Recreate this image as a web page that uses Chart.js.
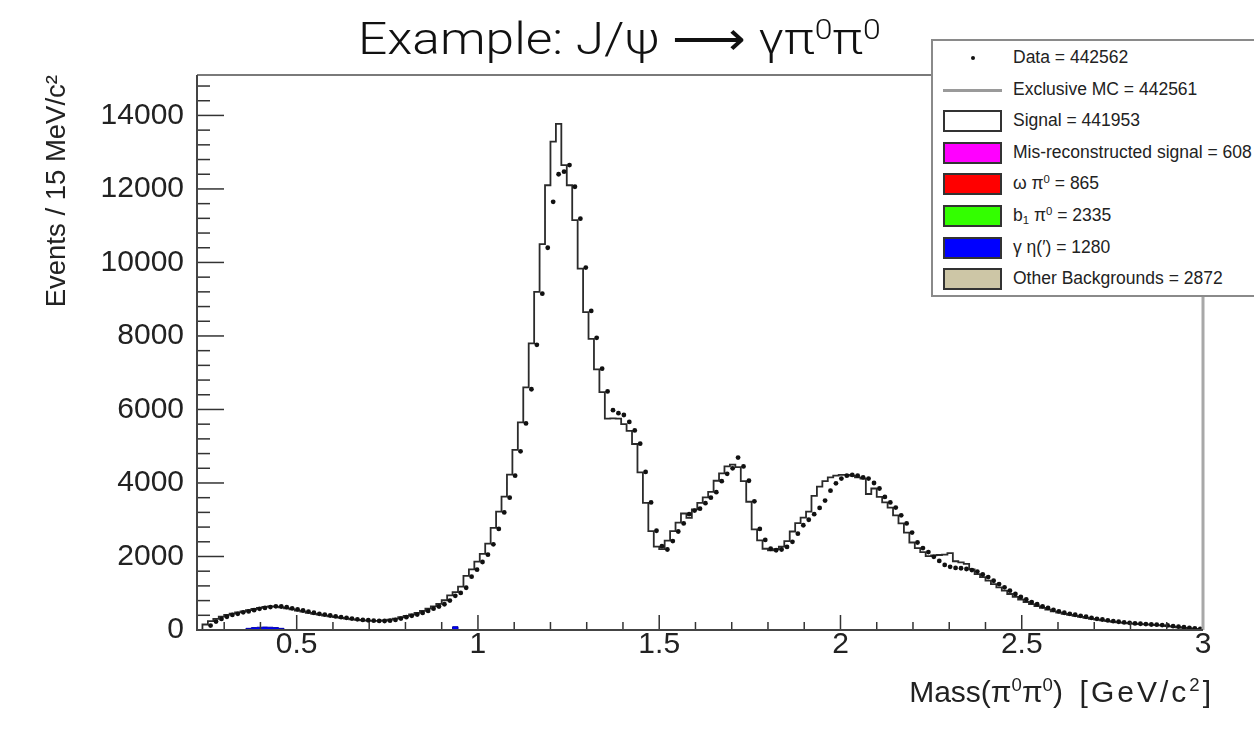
<!DOCTYPE html>
<html>
<head>
<meta charset="utf-8">
<script src="https://cdn.jsdelivr.net/npm/chart.js@4.4.1/dist/chart.umd.min.js"></script>
<style>
html,body{margin:0;padding:0;background:#fff;width:1254px;height:729px;overflow:hidden;}
#wrap{position:relative;width:1254px;height:729px;}
#c{position:absolute;left:0;top:0;}
#title{position:absolute;left:358px;top:13px;white-space:nowrap;font-family:Roboto,"Liberation Sans",sans-serif;font-weight:300;font-size:44px;color:#111;transform:scaleX(1.17);transform-origin:0 0;}
#title sup{font-size:0.62em;vertical-align:0.55em;line-height:0;}
#xtitle{position:absolute;right:40px;top:675px;white-space:nowrap;font-family:"Liberation Sans",Arial,sans-serif;font-size:30px;color:#222;}
#xtitle sup{font-size:0.62em;vertical-align:0.6em;line-height:0;}
#xtitle .u{letter-spacing:3px;}
#legend{position:absolute;left:931px;top:39px;width:340px;height:258px;border:2px solid #8a8a8a;background:#fff;box-sizing:border-box;}
.row{position:absolute;left:0;height:24px;width:340px;}
.sym{position:absolute;left:10px;top:1px;width:59px;height:22px;box-sizing:border-box;border:2px solid #333;}
.txt{position:absolute;left:80px;top:1px;font-family:"Liberation Sans",Arial,sans-serif;font-size:17.5px;color:#222;white-space:nowrap;}
.txt sup{font-size:0.65em;vertical-align:0.5em;line-height:0;}
.txt sub{font-size:0.65em;vertical-align:-0.3em;line-height:0;}
</style>
</head>
<body>
<div id="wrap">
<canvas id="c" width="1254" height="729"></canvas>
<div id="title">Example: J/ψ ⟶ γπ<sup>0</sup>π<sup>0</sup></div>
<div id="xtitle">Mass(π<sup>0</sup>π<sup>0</sup>)&nbsp;&nbsp;<span class="u">[GeV/c<sup>2</sup>]</span></div>
<div id="legend"></div>
</div>
<script>
// ---- binning (15 MeV bins) ----
const binLow = 0.225;
const binWidth = 0.015;

// ---- data counts per bin ----
const dataCounts = [
  null, null, 120, 230, 300, 360, 410, 440, 480, 505,
  540, 575, 600, 625, 645, 640, 620, 590, 560, 530,
  500, 470, 440, 420, 395, 370, 350, 330, 310, 290,
  275, 265, 255, 248, 245, 255, 275, 310, 350, 385,
  420, 465, 520, 580, 640, 700, 800, 930, 1010, 1150,
  1450, 1640, 1850, 2050, 2330, 2750, 3200, 3600, 4200, 4860,
  5620, 6550, 7760, 9150, 10400, 11650, 12400, 12470, 12650, 12060,
  11190, 9860, 8680, 7950, 7110, 6490, 5980, 5900, 5850, 5660,
  5430, 5070, 4300, 3470, 2700, 2280, 2190, 2420, 2680, 2900,
  3150, 3250, 3300, 3450, 3600, 3750, 4050, 4250, 4400, 4690,
  4450, 4060, 3500, 2750, 2450, 2210, 2170, 2190, 2260, 2400,
  2620, 2850, 3000, 3150, 3320, 3520, 3790, 3990, 4120, 4200,
  4220, 4200, 4150, 4120, 4000, 3850, 3620, 3470, 3330, 3120,
  2900, 2650, 2380, 2230, 2120, 1990, 1880, 1770, 1720, 1690,
  1680, 1660, 1630, 1590, 1510, 1440, 1340, 1250, 1160, 1070,
  980, 900, 830, 760, 700, 645, 600, 550, 505, 470,
  440, 415, 385, 360, 330, 305, 285, 260, 240, 225,
  205, 195, 180, 170, 160, 150, 145, 135, 125, 105,
  90, 75, 60, 45, 30
];

// ---- exclusive MC counts per bin ----
const mcCounts = [
  0, 0, 150, 240, 305, 365, 410, 445, 480, 508,
  542, 572, 600, 628, 642, 638, 618, 590, 560, 528,
  500, 468, 440, 418, 393, 370, 348, 328, 308, 290,
  275, 264, 254, 248, 247, 258, 280, 312, 350, 387,
  422, 467, 522, 582, 645, 710, 810, 940, 1030, 1180,
  1470, 1650, 1860, 2070, 2350, 2780, 3220, 3630, 4230, 4900,
  5650, 6600, 7800, 9200, 10500, 12100, 13290, 13770, 12650, 12100,
  11150, 9830, 8650, 7920, 7090, 6470, 5750, 5760, 5750, 5600,
  5420, 5060, 4290, 3460, 2690, 2270, 2200, 2430, 2690, 2920,
  3170, 3050, 3280, 3460, 3610, 3760, 4060, 4260, 4450, 4500,
  4430, 4050, 3490, 2740, 2440, 2210, 2170, 2200, 2270, 2420,
  2680, 2910, 3060, 3220, 3650, 3900, 4050, 4150, 4200, 4220,
  4220, 4200, 4150, 4120, 3700, 3850, 3620, 3470, 3330, 3120,
  2900, 2650, 2380, 2230, 2120, 2010, 2030, 2040, 2050, 2090,
  1870, 1840, 1800, 1650, 1520, 1440, 1345, 1250, 1160, 1070,
  980, 900, 830, 762, 702, 648, 600, 552, 507, 472,
  440, 413, 385, 358, 330, 305, 283, 260, 241, 224,
  206, 195, 181, 170, 160, 151, 145, 135, 125, 106,
  90, 75, 60, 45, 30
];

// ---- gamma eta(') background per bin ----
const gammaEtaCounts = [
  0,0,0,0,0,0,0,0,0,0, 45,65,75,80,75,65,45,0,0,0,
  0,0,0,0,0,0,0,0,0,0, 0,0,0,0,0,0,0,0,0,0,
  0,0,0,0,0,0,0,0,90,0, 0,0,0,0,0,0,0,0,0,0,
  0,0,0,0,0,0,0,0,0,0, 0,0,0,0,0,0,0,0,0,0,
  0,0,0,0,0,0,0,0,0,0, 0,0,0,0,0,0,0,0,0,0,
  0,0,0,0,0,0,0,0,0,0, 0,0,0,0,0,0,0,0,0,0,
  0,0,0,0,0,0,0,0,0,0, 0,0,0,0,0,0,0,0,0,0,
  0,0,0,0,0,0,0,0,0,0, 0,0,0,0,0,0,0,0,0,0,
  0,0,0,0,0,0,0,0,0,0, 0,0,0,0,0
];

// ---- tick labels ----
const xTickLabels = ['0.5', '1', '1.5', '2', '2.5', '3'];
const yTickLabels = ['0', '2000', '4000', '6000', '8000', '10000', '12000', '14000'];

// ---- legend entries ----
const legendLabels = [
  'Data = 442562',
  'Exclusive MC = 442561',
  'Signal = 441953',
  'Mis-reconstructed signal = 608',
  'ω π<sup>0</sup> = 865',
  'b<sub>1</sub> π<sup>0</sup> = 2335',
  'γ η(′) = 1280',
  'Other Backgrounds = 2872'
];
const legendKinds = ['dot', 'line', 'box', 'box', 'box', 'box', 'box', 'box'];
const legendColors = ['#111', '#9a9a9a', '#ffffff', '#ff00ff', '#ff0000', '#33ff00', '#0000ff', '#cdc6a6'];

// build legend
const lg = document.getElementById('legend');
legendLabels.forEach((t, i) => {
  const r = document.createElement('div');
  r.className = 'row';
  r.style.top = (5 + i * 31.6) + 'px';
  let sym;
  if (legendKinds[i] === 'dot') {
    sym = '<div style="position:absolute;left:38px;top:10px;width:4px;height:4px;background:#111;border-radius:2px"></div>';
  } else if (legendKinds[i] === 'line') {
    sym = '<div style="position:absolute;left:10px;top:11px;width:59px;height:3px;background:' + legendColors[i] + '"></div>';
  } else {
    sym = '<div class="sym" style="background:' + legendColors[i] + '"></div>';
  }
  r.innerHTML = sym + '<div class="txt">' + t + '</div>';
  lg.appendChild(r);
});

// build datasets from arrays
const nBins = mcCounts.length;
function stepPoints(arr) {
  const pts = arr.map((v, i) => ({x: binLow + i * binWidth, y: v}));
  pts.push({x: binLow + nBins * binWidth, y: arr[nBins - 1]});
  return pts;
}
const dataPoints = [];
dataCounts.forEach((v, i) => { if (v !== null) dataPoints.push({x: binLow + (i + 0.5) * binWidth, y: v}); });

const xTickValues = xTickLabels.map(Number);
const yTickValues = yTickLabels.map(Number);

const rootFrame = {
  id: 'rootFrame',
  afterDraw(chart) {
    const {ctx, chartArea: a, scales: {x, y}} = chart;
    ctx.save();
    ctx.strokeStyle = '#333';
    ctx.lineWidth = 1.5;
    for (let k = 0; k * 400 <= y.max; k++) {
      const py = y.getPixelForValue(k * 400);
      const major = (k % 5 === 0);
      ctx.beginPath();
      ctx.moveTo(a.left, py);
      ctx.lineTo(a.left + (major ? 27 : 13), py);
      ctx.stroke();
    }
    for (let k = 3; k <= 29; k++) {
      const px = x.getPixelForValue(k / 10);
      const major = (k % 5 === 0);
      ctx.beginPath();
      ctx.moveTo(px, a.bottom);
      ctx.lineTo(px, a.bottom - (major ? 15 : 8));
      ctx.stroke();
    }
    ctx.lineWidth = 2;
    ctx.strokeStyle = '#7a7a7a';
    ctx.beginPath(); ctx.moveTo(a.left, a.top); ctx.lineTo(a.right, a.top); ctx.stroke();
    ctx.lineWidth = 3;
    ctx.strokeStyle = '#a8a8a8';
    ctx.beginPath(); ctx.moveTo(a.right, a.top); ctx.lineTo(a.right, a.bottom); ctx.stroke();
    ctx.lineWidth = 2;
    ctx.strokeStyle = '#444';
    ctx.beginPath(); ctx.moveTo(a.left, a.top); ctx.lineTo(a.left, a.bottom); ctx.lineTo(a.right, a.bottom); ctx.stroke();
    ctx.restore();
  }
};

new Chart(document.getElementById('c'), {
  type: 'line',
  data: {
    datasets: [
      {
        label: 'Data',
        data: dataPoints,
        showLine: false,
        pointRadius: 2.4,
        pointBackgroundColor: '#111',
        pointBorderColor: '#111',
        pointBorderWidth: 0
      },
      {
        label: 'Exclusive MC',
        data: stepPoints(mcCounts),
        stepped: 'after',
        borderColor: '#2b2b2b',
        borderWidth: 1.8,
        pointRadius: 0,
        fill: false
      },
      {
        label: 'γ η(′)',
        data: stepPoints(gammaEtaCounts),
        stepped: 'after',
        borderColor: '#0000aa',
        borderWidth: 1,
        backgroundColor: '#0000ff',
        pointRadius: 0,
        fill: 'origin'
      }
    ]
  },
  options: {
    responsive: false,
    animation: false,
    devicePixelRatio: 1,
    layout: {padding: {left: 0, top: 75, right: 51, bottom: 0}},
    plugins: {legend: {display: false}, tooltip: {enabled: false}, title: {display: false}},
    scales: {
      x: {
        type: 'linear',
        min: binLow,
        max: 3.0,
        afterFit: (s) => { s.height = 99; },
        afterBuildTicks: (s) => { s.ticks = xTickValues.map(v => ({value: v})); },
        grid: {display: false, drawTicks: false},
        border: {display: false},
        ticks: {
          maxRotation: 0,
          autoSkip: false,
          padding: -3,
          color: '#222',
          font: {family: '"Liberation Sans", Arial, sans-serif', size: 30},
          callback: (v) => xTickLabels[xTickValues.indexOf(v)]
        }
      },
      y: {
        type: 'linear',
        min: 0,
        max: 15100,
        afterFit: (s) => { s.width = 197; },
        afterBuildTicks: (s) => { s.ticks = yTickValues.map(v => ({value: v})); },
        grid: {display: false, drawTicks: false},
        border: {display: false},
        ticks: {
          autoSkip: false,
          padding: 13,
          color: '#222',
          font: {family: '"Liberation Sans", Arial, sans-serif', size: 30},
          callback: (v) => yTickLabels[yTickValues.indexOf(v)]
        },
        title: {
          display: true,
          text: 'Events / 15 MeV/c²',
          align: 'end',
          color: '#222',
          font: {family: '"Liberation Sans", Arial, sans-serif', size: 27.5},
          padding: {top: 41, bottom: 0}
        }
      }
    }
  },
  plugins: [rootFrame]
});
</script>
</body>
</html>
